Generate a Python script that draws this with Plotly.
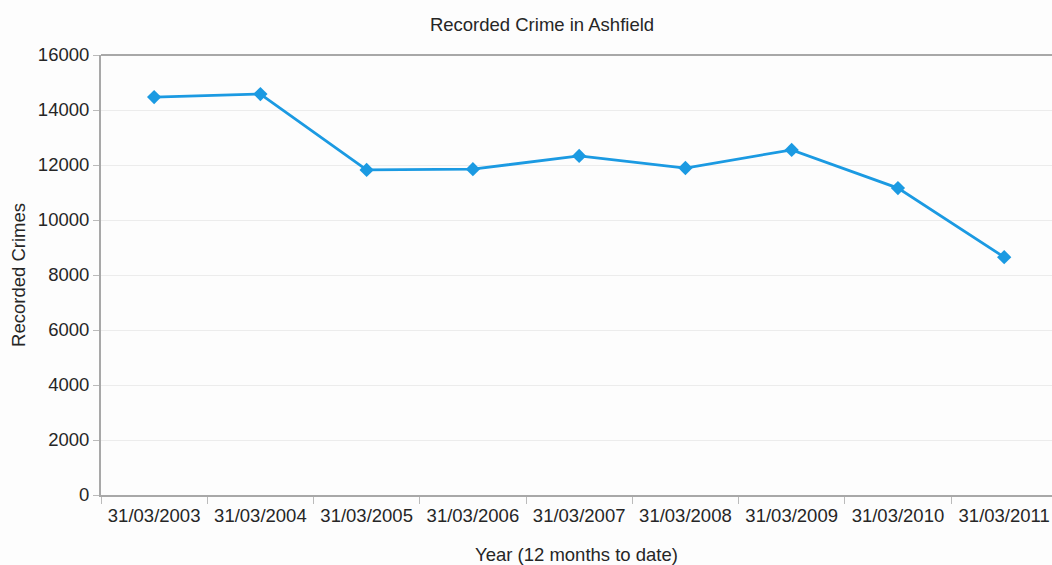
import plotly.graph_objects as go

categories = ["31/03/2003", "31/03/2004", "31/03/2005", "31/03/2006", "31/03/2007",
              "31/03/2008", "31/03/2009", "31/03/2010", "31/03/2011"]
crimes = [14470, 14580, 11820, 11850, 12330, 11890, 12550, 11160, 8650]
y_ticks = [0, 2000, 4000, 6000, 8000, 10000, 12000, 14000, 16000]

FONT = "Liberation Sans, Arial, sans-serif"
blue = "#1b9ae2"
TXT = "#262626"
FS = 18.5

fig = go.Figure()
fig.add_trace(go.Scatter(
    x=categories, y=crimes, mode="lines+markers",
    line=dict(color=blue, width=2.8),
    marker=dict(symbol="diamond", size=11, color=blue),
    showlegend=False, cliponaxis=False,
))

fig.update_layout(
    width=1052, height=565,
    margin=dict(l=101, r=0, t=55, b=70),
    paper_bgcolor="#fdfdfd", plot_bgcolor="#fdfdfd",
    font=dict(family=FONT, size=FS, color=TXT),
    title=dict(text="Recorded Crime in Ashfield", x=542/1052, xanchor="center",
               y=1 - 25/565, yanchor="middle", font=dict(size=FS, color=TXT)),
    xaxis=dict(
        type="category", range=[-0.5, 8.45], tickson="boundaries",
        ticks="outside", ticklen=7, tickcolor="#bbbbbb", tickwidth=1,
        ticklabelstandoff=3,
        showline=True, linecolor="#a8a8a8", linewidth=2,
        showgrid=False, zeroline=False,
        tickfont=dict(size=FS, color=TXT),
        title=dict(text="Year (12 months to date)", standoff=23,
                   font=dict(size=FS, color=TXT)),
    ),
    yaxis=dict(
        range=[0, 16000], tickvals=y_ticks, ticktext=[str(v) for v in y_ticks],
        ticks="outside", ticklen=6, tickcolor="#bbbbbb", tickwidth=1,
        showline=True, linecolor="#a8a8a8", linewidth=2,
        showgrid=True, gridcolor="#ececec", gridwidth=1, zeroline=False,
        tickfont=dict(size=FS, color=TXT),
        title=dict(text="Recorded Crimes", standoff=7,
                   font=dict(size=FS, color=TXT)),
    ),
)
fig.add_shape(type="line", xref="paper", yref="paper", x0=0, x1=1, y0=1, y1=1,
              line=dict(color="#a8a8a8", width=2))

fig.write_html("out.html")
